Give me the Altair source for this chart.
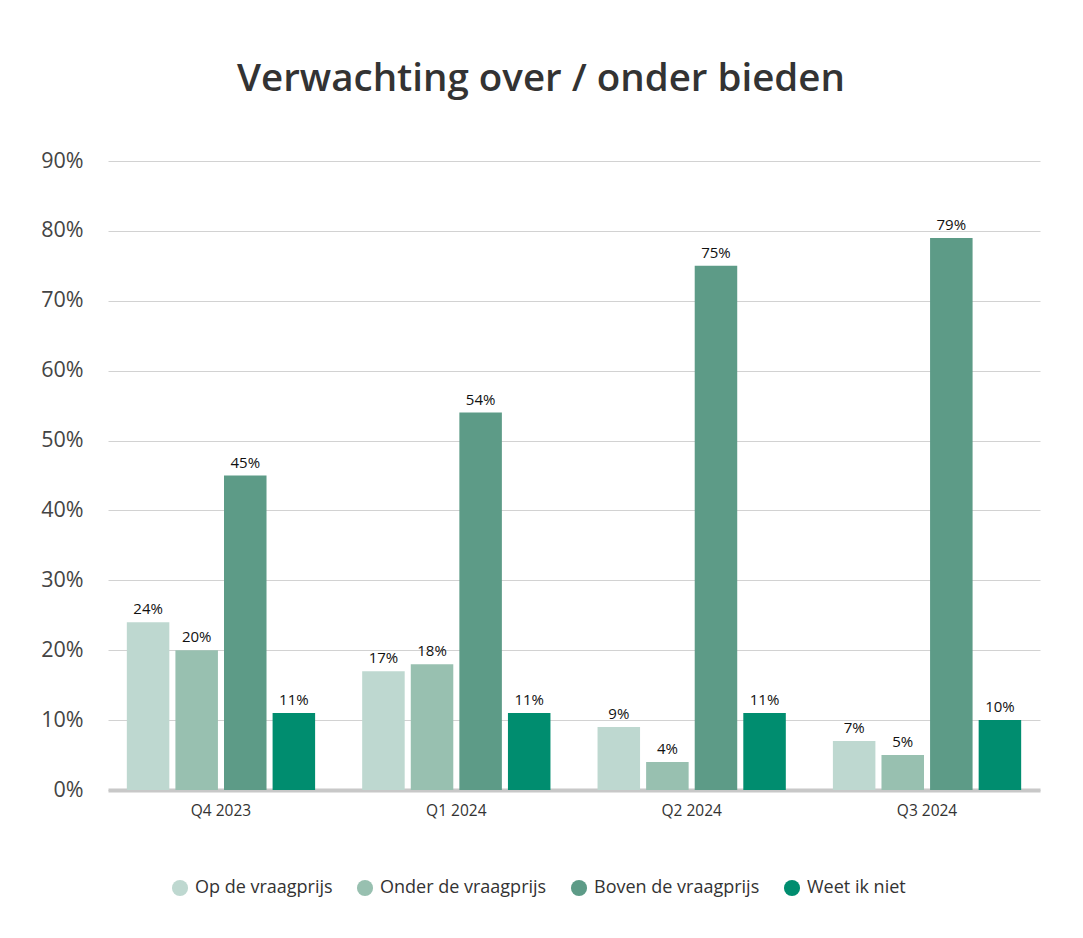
import altair as alt
import pandas as pd

quarters = ["Q4 2023", "Q1 2024", "Q2 2024", "Q3 2024"]
series = ["Op de vraagprijs", "Onder de vraagprijs", "Boven de vraagprijs", "Weet ik niet"]
colors = ["#bed8d0", "#98c0b0", "#5d9b87", "#008d6f"]

op = [24, 17, 9, 7]
onder = [20, 18, 4, 5]
boven = [45, 54, 75, 79]
weet = [11, 11, 11, 10]

rows = []
for s, vals in zip(series, [op, onder, boven, weet]):
    for q, v in zip(quarters, vals):
        rows.append({"quarter": q, "series": s, "value": v, "label": f"{v}%"})
df = pd.DataFrame(rows)

FONT = "Open Sans"

base = alt.Chart(df).encode(
    x=alt.X("quarter:N", sort=quarters, title=None,
            scale=alt.Scale(paddingInner=0.2, paddingOuter=0.08),
            axis=alt.Axis(labelAngle=0, labelFontSize=15.5, labelColor="#333333",
                          labelFont=FONT, labelPadding=13, ticks=False,
                          domain=True, domainColor="#c8c8c8", domainWidth=4,
                          grid=False)),
    xOffset=alt.XOffset("series:N", sort=series,
                        scale=alt.Scale(paddingInner=0.125, paddingOuter=0)),
    y=alt.Y("value:Q", title=None,
            scale=alt.Scale(domain=[0, 90], nice=False),
            axis=alt.Axis(values=list(range(0, 100, 10)), labelExpr="datum.value + '%'",
                          labelFontSize=21.5, labelColor="#444444", labelFont=FONT,
                          labelPadding=25, ticks=False, domain=False,
                          gridColor="#d2d2d2", gridWidth=1)),
)

bars = base.mark_bar().encode(
    color=alt.Color("series:N", sort=series,
                    scale=alt.Scale(domain=series, range=colors),
                    legend=alt.Legend(title=None, orient="none", direction="horizontal",
                                      legendX=63, legendY=718,
                                      symbolType="circle", symbolSize=260,
                                      symbolStrokeWidth=0, symbolOpacity=1,
                                      labelFontSize=18, labelColor="#333333",
                                      labelFont=FONT, labelOffset=6,
                                      columnPadding=23, labelLimit=300)),
)

labels = base.mark_text(dy=-5, fontSize=15, color="#111111", font=FONT, baseline="bottom").encode(
    text="label:N",
)

chart = alt.layer(bars, labels).properties(
    width=932,
    height=629,
    autosize=alt.AutoSizeParams(type="none"),
    padding={"left": 100, "top": 153, "right": 35, "bottom": 140},
    title=alt.Title("Verwachting over / onder bieden", fontSize=38.5, fontWeight=600,
                    color="#333333", font=FONT, anchor="middle", dx=-33, offset=51),
).configure_view(stroke=None)

chart.save("out.html", embed_options={"renderer": "svg", "actions": False})
